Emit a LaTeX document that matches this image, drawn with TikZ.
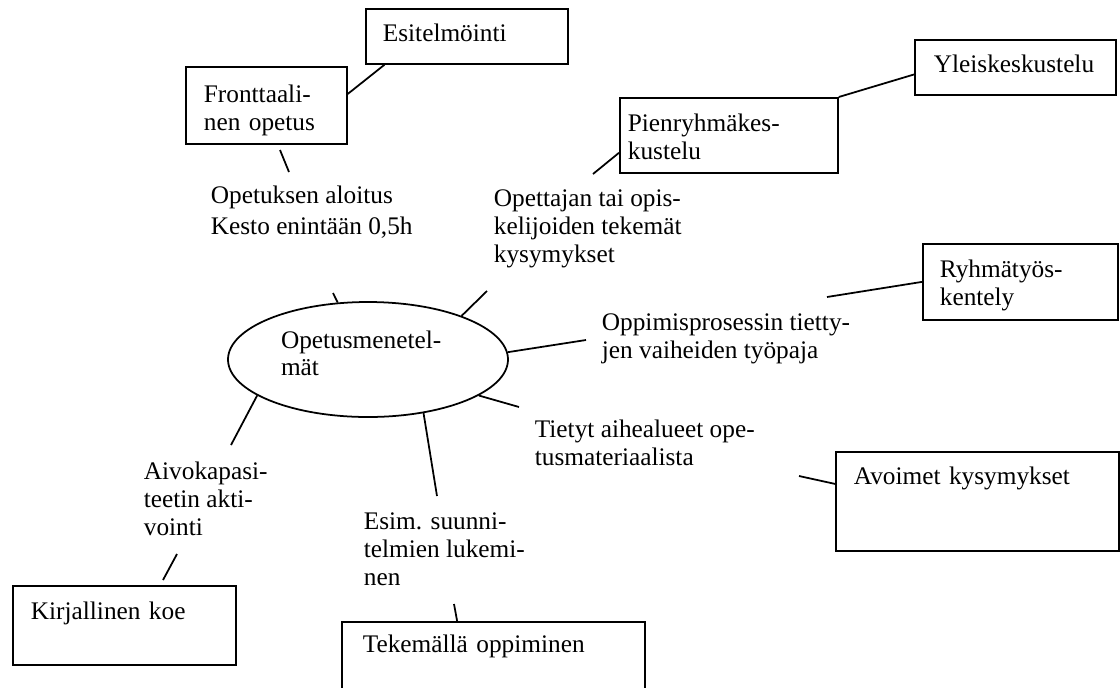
\documentclass[tikz,border=0pt]{standalone}
\usepackage{fontspec}
\setmainfont{Liberation Serif}
\usetikzlibrary{shapes.geometric}
\newlength{\pxu}
\setlength{\pxu}{0.025cm}

\begin{document}
\begin{tikzpicture}[x=0.025cm, y=-0.025cm, line width=1.25pt,
    every node/.style={font=\fontsize{18}{19.9}\selectfont},
    laatikko/.style={draw, rectangle, anchor=north west, inner ysep=0pt, align=left},
    teksti/.style={anchor=base west, inner sep=0pt, align=left}]
    \useasboundingbox (0,0) rectangle (1120,687);

    \node[draw, ellipse, minimum width=280\pxu, minimum height=115\pxu, inner sep=0pt, text width=174\pxu, align=left, text height=17\pxu, text depth=40\pxu] (ell) at (368,359.5) {Opetusmenetel-\\mät};

    \node[laatikko, inner xsep=17\pxu, text width=168\pxu, text height=33\pxu, text depth=22\pxu] (esit) at (365,8) {Esitelmöinti};
    \node[laatikko, inner xsep=18\pxu, text width=125\pxu, text height=36\pxu, text depth=41\pxu] (front) at (185,66) {Fronttaali-\\nen opetus};
    \node[laatikko, inner xsep=8\pxu, text width=202\pxu, text height=34\pxu, text depth=41\pxu] (pien) at (619,97) {Pienryhmäkes-\\kustelu};
    \node[laatikko, inner xsep=19\pxu, text width=163\pxu, text height=33\pxu, text depth=22\pxu] (yleis) at (914,39) {Yleiskeskustelu};
    \node[laatikko, inner xsep=17\pxu, text width=161\pxu, text height=34\pxu, text depth=42\pxu] (ryhma) at (922,243) {Ryhmätyös-\\kentely};
    \node[laatikko, inner xsep=18\pxu, text width=247\pxu, text height=33\pxu, text depth=66\pxu] (avoim) at (835,451) {Avoimet kysymykset};
    \node[laatikko, inner xsep=18\pxu, text width=187\pxu, text height=34\pxu, text depth=45\pxu] (kirj) at (12,585) {Kirjallinen koe};
    \node[laatikko, inner xsep=21\pxu, text width=261\pxu, text height=31\pxu, text depth=45\pxu] (tekem) at (341,621) {Tekemällä oppiminen};

    \node[teksti] (aloitus) at (210,234) {Opetuksen aloitus\\[2pt]Kesto enintään 0,5h};
    \node[teksti] (kysym) at (493,262) {Opettajan tai opis-\\kelijoiden tekemät\\kysymykset};
    \node[teksti] (tyopaja) at (601,358) {Oppimisprosessin tietty-\\jen vaiheiden työpaja};
    \node[teksti] (aihe) at (534,465) {Tietyt aihealueet ope-\\tusmateriaalista};
    \node[teksti] (aivo) at (143,535) {Aivokapasi-\\teetin akti-\\vointi};
    \node[teksti] (esim) at (363,585) {Esim. suunni-\\telmien lukemi-\\nen};

    \coordinate (f1) at (280,150);
    \coordinate (f2) at (289,172);
    \coordinate (c3) at (333,293);
    \coordinate (c4) at (487,291);
    \coordinate (c5) at (593,174);
    \coordinate (c7) at (586,340);
    \coordinate (c8) at (827,297);
    \coordinate (c9) at (519,407);
    \coordinate (c10) at (799,476);
    \coordinate (c11) at (437,496);
    \coordinate (c12) at (231,445);
    \coordinate (c13a) at (163,580);
    \coordinate (c13b) at (177,554);
    \coordinate (c14) at (454,604);

    \draw (front.8) -- (esit.199);
    \draw (f1) -- (f2);
    \draw (ell.118) -- (c3);
    \draw (ell.25) -- (c4);
    \draw (pien.189) -- (c5);
    \draw (pien.north east) -- (yleis.184);
    \draw (ell.3) -- (c7);
    \draw (c8) -- (ryhma.west);
    \draw (ell.-18) -- (c9);
    \draw (c10) -- (avoim.173);
    \draw (ell.-44) -- (c11);
    \draw (ell.198) -- (c12);
    \draw (c13a) -- (c13b);
    \draw (c14) -- (tekem.133);
\end{tikzpicture}
\end{document}
